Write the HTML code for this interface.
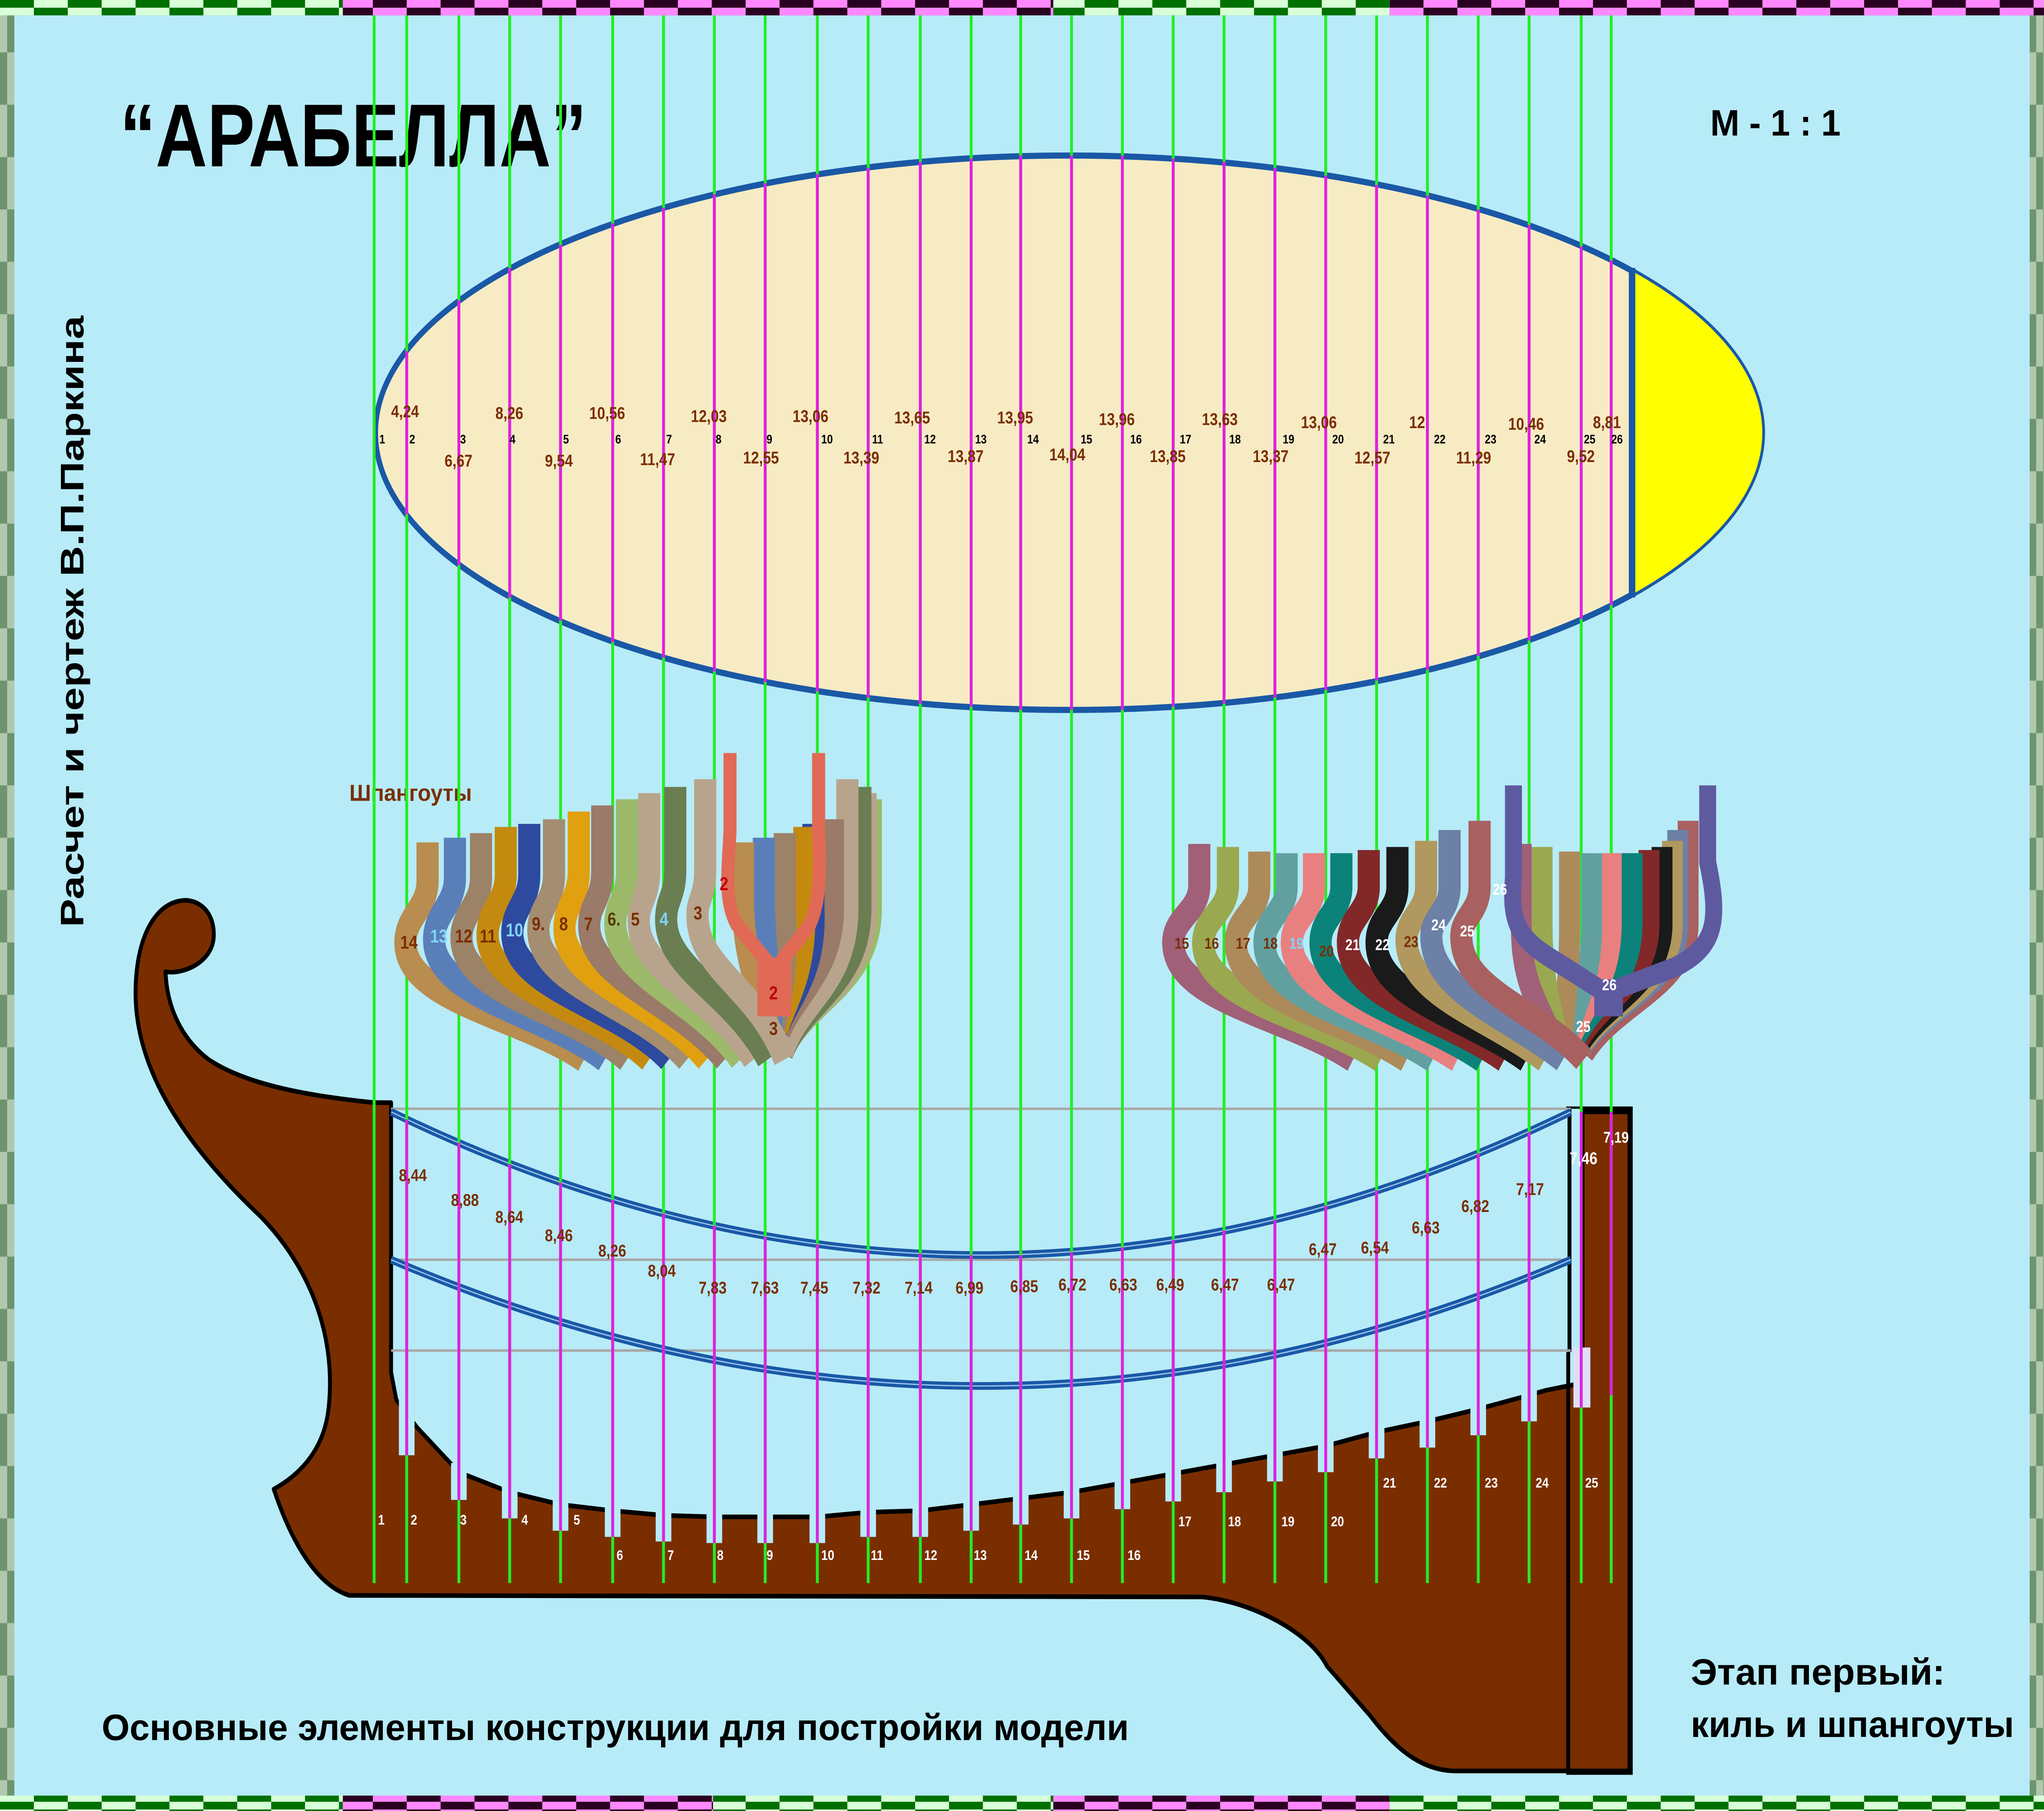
<!DOCTYPE html>
<html><head><meta charset="utf-8"><style>
html,body{margin:0;padding:0;background:#b7ebf8;width:100%;height:100%;overflow:hidden;}
svg{display:block;width:100vw;height:100vh;}
text{font-family:"Liberation Sans",sans-serif;font-weight:bold;}
</style></head><body>
<svg viewBox="0 0 1568 1176" preserveAspectRatio="none" xmlns="http://www.w3.org/2000/svg">
<defs>
<pattern id="pg" width="52" height="10" patternUnits="userSpaceOnUse"><rect width="52" height="10" fill="#d8ffd8"/><rect x="0" y="0" width="26" height="5" fill="#007000"/><rect x="26" y="5" width="26" height="5" fill="#007000"/></pattern>
<pattern id="pp" width="52" height="10" patternUnits="userSpaceOnUse"><rect width="52" height="10" fill="#ff88ff"/><rect x="26" y="0" width="26" height="5" fill="#2a0020"/><rect x="0" y="5" width="26" height="5" fill="#2a0020"/></pattern>
<pattern id="pl" width="11" height="68" patternUnits="userSpaceOnUse"><rect width="11" height="68" fill="#b0c8ad"/><rect x="5.5" y="0" width="5.5" height="34" fill="#6e946e"/><rect x="0" y="34" width="5.5" height="34" fill="#6e946e"/></pattern>
</defs>
<rect width="1568" height="1176" fill="#b7ebf8"/>
<rect x="0" y="0" width="263" height="10" fill="url(#pg)"/>
<rect x="263" y="0" width="545" height="10" fill="url(#pp)"/>
<rect x="808" y="0" width="258" height="10" fill="url(#pg)"/>
<rect x="1066" y="0" width="502" height="10" fill="url(#pp)"/>
<rect x="0" y="1166" width="263" height="10" fill="url(#pg)"/>
<rect x="263" y="1166" width="284" height="10" fill="url(#pp)"/>
<rect x="547" y="1166" width="261" height="10" fill="url(#pg)"/>
<rect x="808" y="1166" width="258" height="10" fill="url(#pp)"/>
<rect x="1066" y="1166" width="502" height="10" fill="url(#pg)"/>
<rect x="0" y="10" width="11" height="1156" fill="url(#pl)"/>
<rect x="1557" y="10" width="11" height="1156" fill="url(#pl)"/>

<text x="92" y="108" font-size="58" textLength="358" lengthAdjust="spacingAndGlyphs">“АРАБЕЛЛА”</text>
<text x="1312" y="88" font-size="24" textLength="100" lengthAdjust="spacingAndGlyphs">М - 1 : 1</text>
<text transform="translate(64,602) rotate(-90)" font-size="25" textLength="397" lengthAdjust="spacingAndGlyphs">Расчет и чертеж В.П.Паркина</text>
<text x="268" y="520" font-size="15" fill="#7a2e00" textLength="94" lengthAdjust="spacingAndGlyphs">Шпангоуты</text>
<text x="78" y="1130" font-size="24" textLength="788" lengthAdjust="spacingAndGlyphs">Основные элементы конструкции для постройки модели</text>
<text x="1297" y="1094" font-size="24" textLength="195" lengthAdjust="spacingAndGlyphs">Этап первый:</text>
<text x="1297" y="1128" font-size="24" textLength="248" lengthAdjust="spacingAndGlyphs">киль и шпангоуты</text>

<ellipse cx="820" cy="281" rx="532" ry="180" fill="#f7ebc4" stroke="#1a58a6" stroke-width="4"/>
<path d="M1252,176 A532,180 0 0 1 1252,386 Z" fill="#ffff00"/>
<line x1="1252" y1="174" x2="1252" y2="388" stroke="#1a58a6" stroke-width="5"/>

<path d="M164,607 C164,590 150,583 138,585 C118,588 104,610 104,645 C104,700 150,750 200,790 C240,825 258,870 252,915 C248,945 225,960 210,967 C225,1005 245,1030 268,1036 L922,1037 C960,1040 1005,1060 1018,1082 L1051,1114 C1070,1135 1090,1150 1117,1150 L1250,1150 L1250,722 L1214,722 L1214,898 L1185,903 L1173,906 L1134,915 L1095,923 L1056,930 L1017,939 L978,945 L939,951 L900,957 L861,963 L822,969 L783,973 L745,977 L706,981 L666,982 L627,985 L587,985 L548,985 L509,984 L470,981 L430,977 L391,969 L352,956 L320,927 L304,909 L300,891 L300,716 L287,716 C240,712 190,705 160,688 C140,675 128,655 127,631 C140,633 164,625 164,607 Z" fill="#7a2e00" stroke="#000" stroke-width="3" stroke-linejoin="round"/>
<rect x="1203" y="720" width="48" height="431" fill="none" stroke="#000" stroke-width="3"/>
<rect x="1201" y="720" width="12" height="158" fill="#b7ebf8"/>
<line x1="1204" y1="720" x2="1204" y2="878" stroke="#000" stroke-width="3"/>

<g fill="#b7ebf8">
<rect x="306" y="905" width="12" height="40"/>
<rect x="346" y="950" width="12" height="24"/>
<rect x="385" y="962" width="12" height="24"/>
<rect x="424" y="970" width="12" height="24"/>
<rect x="464" y="976" width="12" height="22"/>
<rect x="503" y="979" width="12" height="22"/>
<rect x="542" y="980" width="12" height="22"/>
<rect x="581" y="980" width="12" height="22"/>
<rect x="621" y="980" width="12" height="22"/>
<rect x="660" y="977" width="12" height="21"/>
<rect x="700" y="976" width="12" height="22"/>
<rect x="739" y="972" width="12" height="22"/>
<rect x="777" y="968" width="12" height="22"/>
<rect x="816" y="964" width="12" height="22"/>
<rect x="855" y="958" width="12" height="22"/>
<rect x="894" y="952" width="12" height="23"/>
<rect x="933" y="946" width="12" height="23"/>
<rect x="972" y="940" width="12" height="22"/>
<rect x="1011" y="934" width="12" height="22"/>
<rect x="1050" y="925" width="12" height="22"/>
<rect x="1089" y="918" width="12" height="22"/>
<rect x="1128" y="910" width="12" height="22"/>
<rect x="1167" y="901" width="12" height="22"/>
</g>
<rect x="1207" y="875" width="13" height="39" fill="#dde0f8"/>

<g stroke="#a8a8a8" stroke-width="1.6">
<line x1="300" y1="720" x2="1205" y2="720"/>
<line x1="300" y1="818" x2="1205" y2="818"/>
<line x1="300" y1="877" x2="1205" y2="877"/>
</g>
<g fill="none" stroke="#1a58a6" stroke-width="5">
<path d="M300,722 Q753,908 1205,722"/>
<path d="M300,818 Q753,982 1205,818"/>
</g>
<g fill="none" stroke="#9cc8f0" stroke-width="0.8">
<path d="M300,722 Q753,908 1205,722"/>
<path d="M300,818 Q753,982 1205,818"/>
</g>

<g stroke="#22ee22" stroke-width="2.2">
<line x1="287" y1="10" x2="287" y2="1028"/><line x1="312" y1="10" x2="312" y2="1028"/>
<line x1="352" y1="10" x2="352" y2="1028"/><line x1="391" y1="10" x2="391" y2="1028"/>
<line x1="430" y1="10" x2="430" y2="1028"/><line x1="470" y1="10" x2="470" y2="1028"/>
<line x1="509" y1="10" x2="509" y2="1028"/><line x1="548" y1="10" x2="548" y2="1028"/>
<line x1="587" y1="10" x2="587" y2="1028"/><line x1="627" y1="10" x2="627" y2="1028"/>
<line x1="666" y1="10" x2="666" y2="1028"/><line x1="706" y1="10" x2="706" y2="1028"/>
<line x1="745" y1="10" x2="745" y2="1028"/><line x1="783" y1="10" x2="783" y2="1028"/>
<line x1="822" y1="10" x2="822" y2="1028"/><line x1="861" y1="10" x2="861" y2="1028"/>
<line x1="900" y1="10" x2="900" y2="1028"/><line x1="939" y1="10" x2="939" y2="1028"/>
<line x1="978" y1="10" x2="978" y2="1028"/><line x1="1017" y1="10" x2="1017" y2="1028"/>
<line x1="1056" y1="10" x2="1056" y2="1028"/><line x1="1095" y1="10" x2="1095" y2="1028"/>
<line x1="1134" y1="10" x2="1134" y2="1028"/><line x1="1173" y1="10" x2="1173" y2="1028"/>
<line x1="1213" y1="10" x2="1213" y2="1028"/><line x1="1236" y1="10" x2="1236" y2="1028"/>
</g>
<g stroke="#e020e0" stroke-width="2.2">
<line x1="312" y1="228" x2="312" y2="334"/><line x1="352" y1="195" x2="352" y2="367"/>
<line x1="391" y1="174" x2="391" y2="388"/><line x1="430" y1="159" x2="430" y2="403"/>
<line x1="470" y1="145" x2="470" y2="417"/><line x1="509" y1="135" x2="509" y2="427"/>
<line x1="548" y1="126" x2="548" y2="436"/><line x1="587" y1="119" x2="587" y2="443"/>
<line x1="627" y1="113" x2="627" y2="449"/><line x1="666" y1="109" x2="666" y2="453"/>
<line x1="706" y1="105" x2="706" y2="457"/><line x1="745" y1="103" x2="745" y2="459"/>
<line x1="783" y1="101" x2="783" y2="461"/><line x1="822" y1="101" x2="822" y2="461"/>
<line x1="861" y1="101" x2="861" y2="461"/><line x1="900" y1="103" x2="900" y2="459"/>
<line x1="939" y1="105" x2="939" y2="457"/><line x1="978" y1="109" x2="978" y2="453"/>
<line x1="1017" y1="114" x2="1017" y2="448"/><line x1="1056" y1="120" x2="1056" y2="442"/>
<line x1="1095" y1="127" x2="1095" y2="435"/><line x1="1134" y1="136" x2="1134" y2="426"/>
<line x1="1173" y1="146" x2="1173" y2="416"/><line x1="1213" y1="160" x2="1213" y2="402"/>
<line x1="1236" y1="169" x2="1236" y2="393"/>
<line x1="312" y1="727" x2="312" y2="945"/><line x1="352" y1="742" x2="352" y2="974"/>
<line x1="391" y1="756" x2="391" y2="986"/><line x1="430" y1="768" x2="430" y2="994"/>
<line x1="470" y1="779" x2="470" y2="998"/><line x1="509" y1="788" x2="509" y2="1001"/>
<line x1="548" y1="796" x2="548" y2="1002"/><line x1="587" y1="803" x2="587" y2="1002"/>
<line x1="627" y1="808" x2="627" y2="1002"/><line x1="666" y1="812" x2="666" y2="998"/>
<line x1="706" y1="814" x2="706" y2="998"/><line x1="745" y1="815" x2="745" y2="994"/>
<line x1="783" y1="815" x2="783" y2="990"/><line x1="822" y1="813" x2="822" y2="986"/>
<line x1="861" y1="810" x2="861" y2="980"/><line x1="900" y1="805" x2="900" y2="975"/>
<line x1="939" y1="799" x2="939" y2="969"/><line x1="978" y1="792" x2="978" y2="962"/>
<line x1="1017" y1="783" x2="1017" y2="956"/><line x1="1056" y1="773" x2="1056" y2="947"/>
<line x1="1095" y1="762" x2="1095" y2="940"/><line x1="1134" y1="749" x2="1134" y2="932"/>
<line x1="1173" y1="735" x2="1173" y2="923"/><line x1="1213" y1="722" x2="1213" y2="914"/>
<line x1="1236" y1="722" x2="1236" y2="906"/>
</g>

<g font-size="8" fill="#000">
<text x="291" y="288">1</text><text x="314" y="288">2</text><text x="353" y="288">3</text><text x="391" y="288">4</text><text x="432" y="288">5</text><text x="472" y="288">6</text><text x="511" y="288">7</text><text x="549" y="288">8</text><text x="588" y="288">9</text><text x="630" y="288">10</text><text x="669" y="288">11</text><text x="709" y="288">12</text><text x="748" y="288">13</text><text x="788" y="288">14</text><text x="829" y="288">15</text><text x="867" y="288">16</text><text x="905" y="288">17</text><text x="943" y="288">18</text><text x="984" y="288">19</text><text x="1022" y="288">20</text><text x="1061" y="288">21</text><text x="1100" y="288">22</text><text x="1139" y="288">23</text><text x="1177" y="288">24</text><text x="1215" y="288">25</text><text x="1236" y="288">26</text>
</g>
<g font-size="11" fill="#7a2e00">
<text x="300" y="271">4,24</text><text x="380" y="272">8,26</text><text x="452" y="272">10,56</text><text x="530" y="274">12,03</text><text x="608" y="274">13,06</text><text x="686" y="275">13,65</text><text x="765" y="275">13,95</text><text x="843" y="276">13,96</text><text x="922" y="276">13,63</text><text x="998" y="278">13,06</text><text x="1081" y="278">12</text><text x="1157" y="279">10,46</text><text x="1222" y="278">8,81</text>
<text x="341" y="303">6,67</text><text x="418" y="303">9,54</text><text x="491" y="302">11,47</text><text x="570" y="301">12,55</text><text x="647" y="301">13,39</text><text x="727" y="300">13,87</text><text x="805" y="299">14,04</text><text x="882" y="300">13,85</text><text x="961" y="300">13,37</text><text x="1039" y="301">12,57</text><text x="1117" y="301">11,29</text><text x="1202" y="300">9,52</text>
</g>

<g font-size="11" fill="#7a2e00">
<text x="306" y="767">8,44</text><text x="346" y="783">8,88</text><text x="380" y="794">8,64</text><text x="418" y="806">8,46</text><text x="459" y="816">8,26</text><text x="497" y="829">8,04</text>
<text x="536" y="840">7,83</text><text x="576" y="840">7,63</text><text x="614" y="840">7,45</text><text x="654" y="840">7,32</text><text x="694" y="840">7,14</text><text x="733" y="840">6,99</text><text x="775" y="839">6,85</text><text x="812" y="838">6,72</text><text x="851" y="838">6,63</text><text x="887" y="838">6,49</text><text x="929" y="838">6,47</text><text x="972" y="838">6,47</text>
<text x="1004" y="815">6,47</text><text x="1044" y="814">6,54</text><text x="1083" y="801">6,63</text><text x="1121" y="787">6,82</text><text x="1163" y="776">7,17</text>
<text x="1204" y="756" fill="#fff">7,46</text><text x="1230" y="742" fill="#fff" font-size="10">7,19</text>
</g>
<g font-size="9" fill="#fff">
<text x="290" y="990">1</text><text x="315" y="990">2</text><text x="353" y="990">3</text><text x="400" y="990">4</text><text x="440" y="990">5</text>
<text x="473" y="1013">6</text><text x="512" y="1013">7</text><text x="550" y="1013">8</text><text x="588" y="1013">9</text><text x="630" y="1013">10</text><text x="668" y="1013">11</text><text x="709" y="1013">12</text><text x="747" y="1013">13</text><text x="786" y="1013">14</text><text x="826" y="1013">15</text><text x="865" y="1013">16</text>
<text x="904" y="991">17</text><text x="942" y="991">18</text><text x="983" y="991">19</text><text x="1021" y="991">20</text>
<text x="1061" y="966">21</text><text x="1100" y="966">22</text><text x="1139" y="966">23</text><text x="1178" y="966">24</text><text x="1216" y="966">25</text>
</g>

<g fill="none" stroke-width="17" stroke-linecap="butt">
<path d="M668,519 V590 C668,640 615,650 600,684" stroke="#9cba6a"/>
<path d="M664,515 V590 C664,640 615,650 600,684" stroke="#b8a48c"/>
<path d="M660,511 V590 C660,640 615,650 600,684" stroke="#6a7e52"/>
<path d="M650,506 V590 C650,640 612,650 600,684" stroke="#b8a48c"/>
<path d="M639,532 V590 C639,630 610,645 598,670" stroke="#9a7a68"/>
<path d="M624,535 V590 C626,630 608,645 596,668" stroke="#2d4a9e"/>
<path d="M617,537 V590 C618,630 606,645 596,668" stroke="#c48a10"/>
<path d="M602,541 V590 C604,630 600,645 594,668" stroke="#9c8266"/>
<path d="M586,544 V590 C588,630 592,645 592,668" stroke="#5a7fb8"/>
<path d="M570,547 V590 C572,630 584,645 590,668" stroke="#b98c4f"/>
</g>
<g fill="none" stroke-width="17">
<path d="M328,547 V572 C328,590 311,595 311,612 C311,650 401,660 448,688" stroke="#b98c4f"/>
<path d="M349,544 V570 C349,588 333,593 333,610 C333,648 420,658 464,688" stroke="#5a7fb8"/>
<path d="M369,541 V570 C369,588 354,593 354,609 C354,646 440,656 481,688" stroke="#9c8266"/>
<path d="M388,537 V568 C388,586 374,591 374,607 C374,644 458,655 498,688" stroke="#c48a10"/>
<path d="M406,535 V568 C406,586 393,590 393,606 C393,642 475,653 513,688" stroke="#2d4a9e"/>
<path d="M425,532 V568 C425,586 413,589 413,604 C413,640 490,652 527,688" stroke="#a48d70"/>
<path d="M444,527 V566 C444,584 433,588 433,603 C433,638 505,650 542,688" stroke="#e0a010"/>
<path d="M462,523 V566 C462,584 452,587 452,601 C452,636 520,650 556,688" stroke="#9a7a68"/>
<path d="M481,519 V566 C481,584 472,586 472,600 C472,634 535,648 568,688" stroke="#9cba6a"/>
<path d="M498,515 V565 C498,583 490,585 490,598 C490,632 548,646 578,688" stroke="#b8a48c"/>
<path d="M518,511 V565 C518,582 511,584 511,597 C511,630 562,644 589,688" stroke="#6a7e52"/>
<path d="M541,506 V565 C541,582 535,584 535,594 C535,630 580,640 602,688" stroke="#b8a48c"/>
</g>
<g fill="none" stroke="#e06a55">
<path d="M560,489 V540 C558,570 556,585 565,600 L594,630" stroke-width="10"/>
<path d="M628,489 V540 C630,570 628,590 620,602 L594,630" stroke-width="10"/>
<path d="M594,622 V660" stroke-width="26"/>
</g>
<g font-size="12">
<text x="307" y="616" fill="#7a2e00">14</text><text x="330" y="612" fill="#7fd4ff">13</text><text x="349" y="612" fill="#7a2e00">12</text><text x="368" y="612" fill="#7a2e00">11</text><text x="388" y="608" fill="#7fd4ff">10</text><text x="408" y="604" fill="#7a2e00">9.</text><text x="429" y="604" fill="#7a2e00">8</text><text x="448" y="604" fill="#7a2e00">7</text><text x="466" y="601" fill="#5a3a00">6.</text><text x="484" y="601" fill="#7a2e00">5</text><text x="506" y="601" fill="#7fd4ff">4</text><text x="532" y="597" fill="#7a2e00">3</text>
<text x="552" y="578" fill="#c00000">2</text><text x="590" y="649" fill="#c00000">2</text><text x="590" y="672" fill="#7a2e00">3</text>
</g>

<g fill="none" stroke-width="16">
<path d="M1295,533 V600 C1295,640 1240,650 1215,684" stroke="#a86060"/>
<path d="M1287,539 V600 C1287,640 1235,650 1213,680" stroke="#6d80a5"/>
<path d="M1283,546 V600 C1283,640 1232,650 1212,680" stroke="#b0985e"/>
<path d="M1275,550 V600 C1275,640 1230,650 1210,680" stroke="#1a1a1a"/>
<path d="M1265,552 V600 C1265,640 1225,650 1208,680" stroke="#822828"/>
<path d="M1252,554 V600 C1252,640 1220,650 1205,680" stroke="#0b827a"/>
<path d="M1236,554 V600 C1236,640 1215,650 1202,680" stroke="#e98080"/>
<path d="M1221,554 V600 C1221,640 1208,650 1200,680" stroke="#62a0a0"/>
<path d="M1204,553 V600 C1204,640 1200,650 1198,680" stroke="#ad8a5a"/>
<path d="M1183,550 V600 C1183,640 1190,650 1196,680" stroke="#9aa850"/>
<path d="M1167,548 V600 C1167,640 1180,650 1194,680" stroke="#a06078"/>
</g>
<g fill="none" stroke-width="17">
<path d="M920,548 V575 C920,592 900,596 900,612 C900,650 990,660 1038,688" stroke="#a06078"/>
<path d="M942,550 V575 C942,592 923,596 923,612 C923,650 1010,660 1059,688" stroke="#9aa850"/>
<path d="M966,553 V576 C966,592 948,596 948,612 C948,650 1030,660 1079,688" stroke="#ad8a5a"/>
<path d="M987,554 V576 C987,592 970,596 970,612 C970,650 1050,660 1099,688" stroke="#62a0a0"/>
<path d="M1008,554 V576 C1008,592 991,596 991,612 C991,648 1070,660 1118,688" stroke="#e98080"/>
<path d="M1029,554 V576 C1029,592 1013,596 1013,612 C1013,648 1090,660 1137,688" stroke="#0b827a"/>
<path d="M1050,552 V576 C1050,592 1034,596 1034,612 C1034,648 1108,660 1154,688" stroke="#822828"/>
<path d="M1072,550 V576 C1072,592 1056,596 1056,612 C1056,648 1126,660 1171,688" stroke="#1a1a1a"/>
<path d="M1094,546 V576 C1094,592 1079,596 1079,610 C1079,646 1142,660 1185,688" stroke="#b0985e"/>
<path d="M1112,539 V576 C1112,592 1098,596 1098,608 C1098,644 1158,660 1199,688" stroke="#6d80a5"/>
<path d="M1135,533 V576 C1135,592 1121,596 1121,608 C1121,644 1180,655 1215,688" stroke="#a86060"/>
</g>
<g fill="none" stroke="#5e5aa0">
<path d="M1161,510 V570 C1158,600 1165,610 1195,625 L1232,645" stroke-width="13"/>
<path d="M1310,510 V560 C1320,600 1315,615 1285,628 L1232,645" stroke-width="13"/>
<path d="M1234,636 V660" stroke-width="22"/>
</g>
<g font-size="10" fill="#fff">
<text x="901" y="616" fill="#7a2e00">15</text><text x="924" y="616" fill="#7a2e00">16</text><text x="948" y="616" fill="#7a2e00">17</text><text x="969" y="616" fill="#7a2e00">18</text><text x="989" y="616" fill="#7fd4ff">19</text><text x="1012" y="621" fill="#7a2e00">20</text><text x="1032" y="617">21</text><text x="1055" y="617">22</text><text x="1077" y="615" fill="#7a2e00">23</text><text x="1098" y="604">24</text><text x="1120" y="608">25</text><text x="1145" y="581">26</text><text x="1229" y="643">26</text><text x="1209" y="670">25</text>
</g>
</svg>
</body></html>
